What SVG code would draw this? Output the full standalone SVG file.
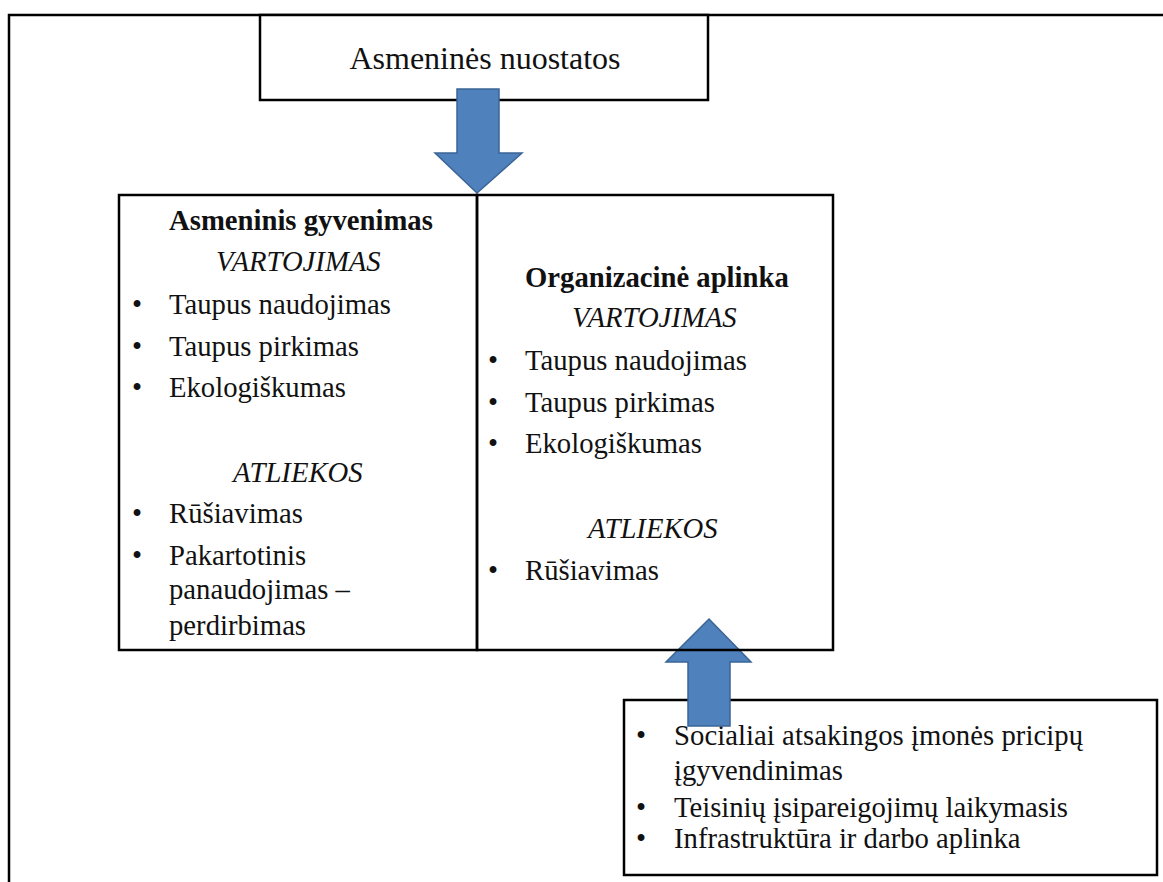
<svg xmlns="http://www.w3.org/2000/svg" width="1163" height="882" viewBox="0 0 1163 882">
<style>
.box{fill:#fff;stroke:#000;stroke-width:2.5}
.frame{fill:none;stroke:#000;stroke-width:2.5}
.t{font-family:"Liberation Serif","Times New Roman",serif;font-size:28.7px;fill:#111}
.b{font-weight:bold}
.i{font-style:italic}
.c{text-anchor:middle}
.arrow{fill:#4F81BD;stroke:#3A6496;stroke-width:1.5}
</style>
<rect width="1163" height="882" fill="#fff"/>
<path class="frame" d="M9,882 L9,15 L1163,15"/>
<g id="node-nuostatos">
<rect class="box" x="260" y="15" width="448" height="85"/>
<text class="t" x="485" y="69" text-anchor="middle" style="font-size:32px">Asmeninės nuostatos</text>
</g>
<g id="node-salygos">
<rect class="box" x="624" y="700" width="533" height="175"/>
<text class="t c" x="641" y="745">•</text>
<text class="t" x="674" y="745" textLength="409" lengthAdjust="spacing">Socialiai atsakingos įmonės pricipų</text>
<text class="t" x="674" y="780">įgyvendinimas</text>
<text class="t c" x="641" y="817">•</text>
<text class="t" x="674" y="817" textLength="394" lengthAdjust="spacing">Teisinių įsipareigojimų  laikymasis</text>
<text class="t c" x="641" y="848">•</text>
<text class="t" x="674" y="848">Infrastruktūra ir darbo aplinka</text>
</g>
<g id="connectors">
<polygon class="arrow" points="457,89 499,89 499,153 522,153 477,193 435,153 457,153"/>
<polygon class="arrow" points="709,619 751,662 730,662 730,726 688,726 688,662 666,662"/>
</g>
<g id="node-asmeninis">
<rect class="box" x="119" y="195" width="358" height="455" style="fill:none"/>
<text class="t b" x="169" y="230">Asmeninis gyvenimas</text>
<text class="t i" x="216" y="271">VARTOJIMAS</text>
<text class="t c" x="137" y="314">•</text>
<text class="t" x="169" y="314">Taupus naudojimas</text>
<text class="t c" x="137" y="356">•</text>
<text class="t" x="169" y="356">Taupus pirkimas</text>
<text class="t c" x="137" y="397">•</text>
<text class="t" x="169" y="397">Ekologiškumas</text>
<text class="t i" x="233" y="482">ATLIEKOS</text>
<text class="t c" x="137" y="523">•</text>
<text class="t" x="169" y="523">Rūšiavimas</text>
<text class="t c" x="137" y="565">•</text>
<text class="t" x="169" y="565">Pakartotinis</text>
<text class="t" x="169" y="599">panaudojimas –</text>
<text class="t" x="169" y="635">perdirbimas</text>
</g>
<g id="node-organizacine">
<rect class="box" x="477" y="195" width="356" height="455" style="fill:none"/>
<text class="t b" x="525" y="287">Organizacinė aplinka</text>
<text class="t i" x="572" y="327">VARTOJIMAS</text>
<text class="t c" x="493" y="370">•</text>
<text class="t" x="525" y="370">Taupus naudojimas</text>
<text class="t c" x="493" y="412">•</text>
<text class="t" x="525" y="412">Taupus pirkimas</text>
<text class="t c" x="493" y="453">•</text>
<text class="t" x="525" y="453">Ekologiškumas</text>
<text class="t i" x="588" y="538">ATLIEKOS</text>
<text class="t c" x="493" y="580">•</text>
<text class="t" x="525" y="580">Rūšiavimas</text>
</g>
</svg>
